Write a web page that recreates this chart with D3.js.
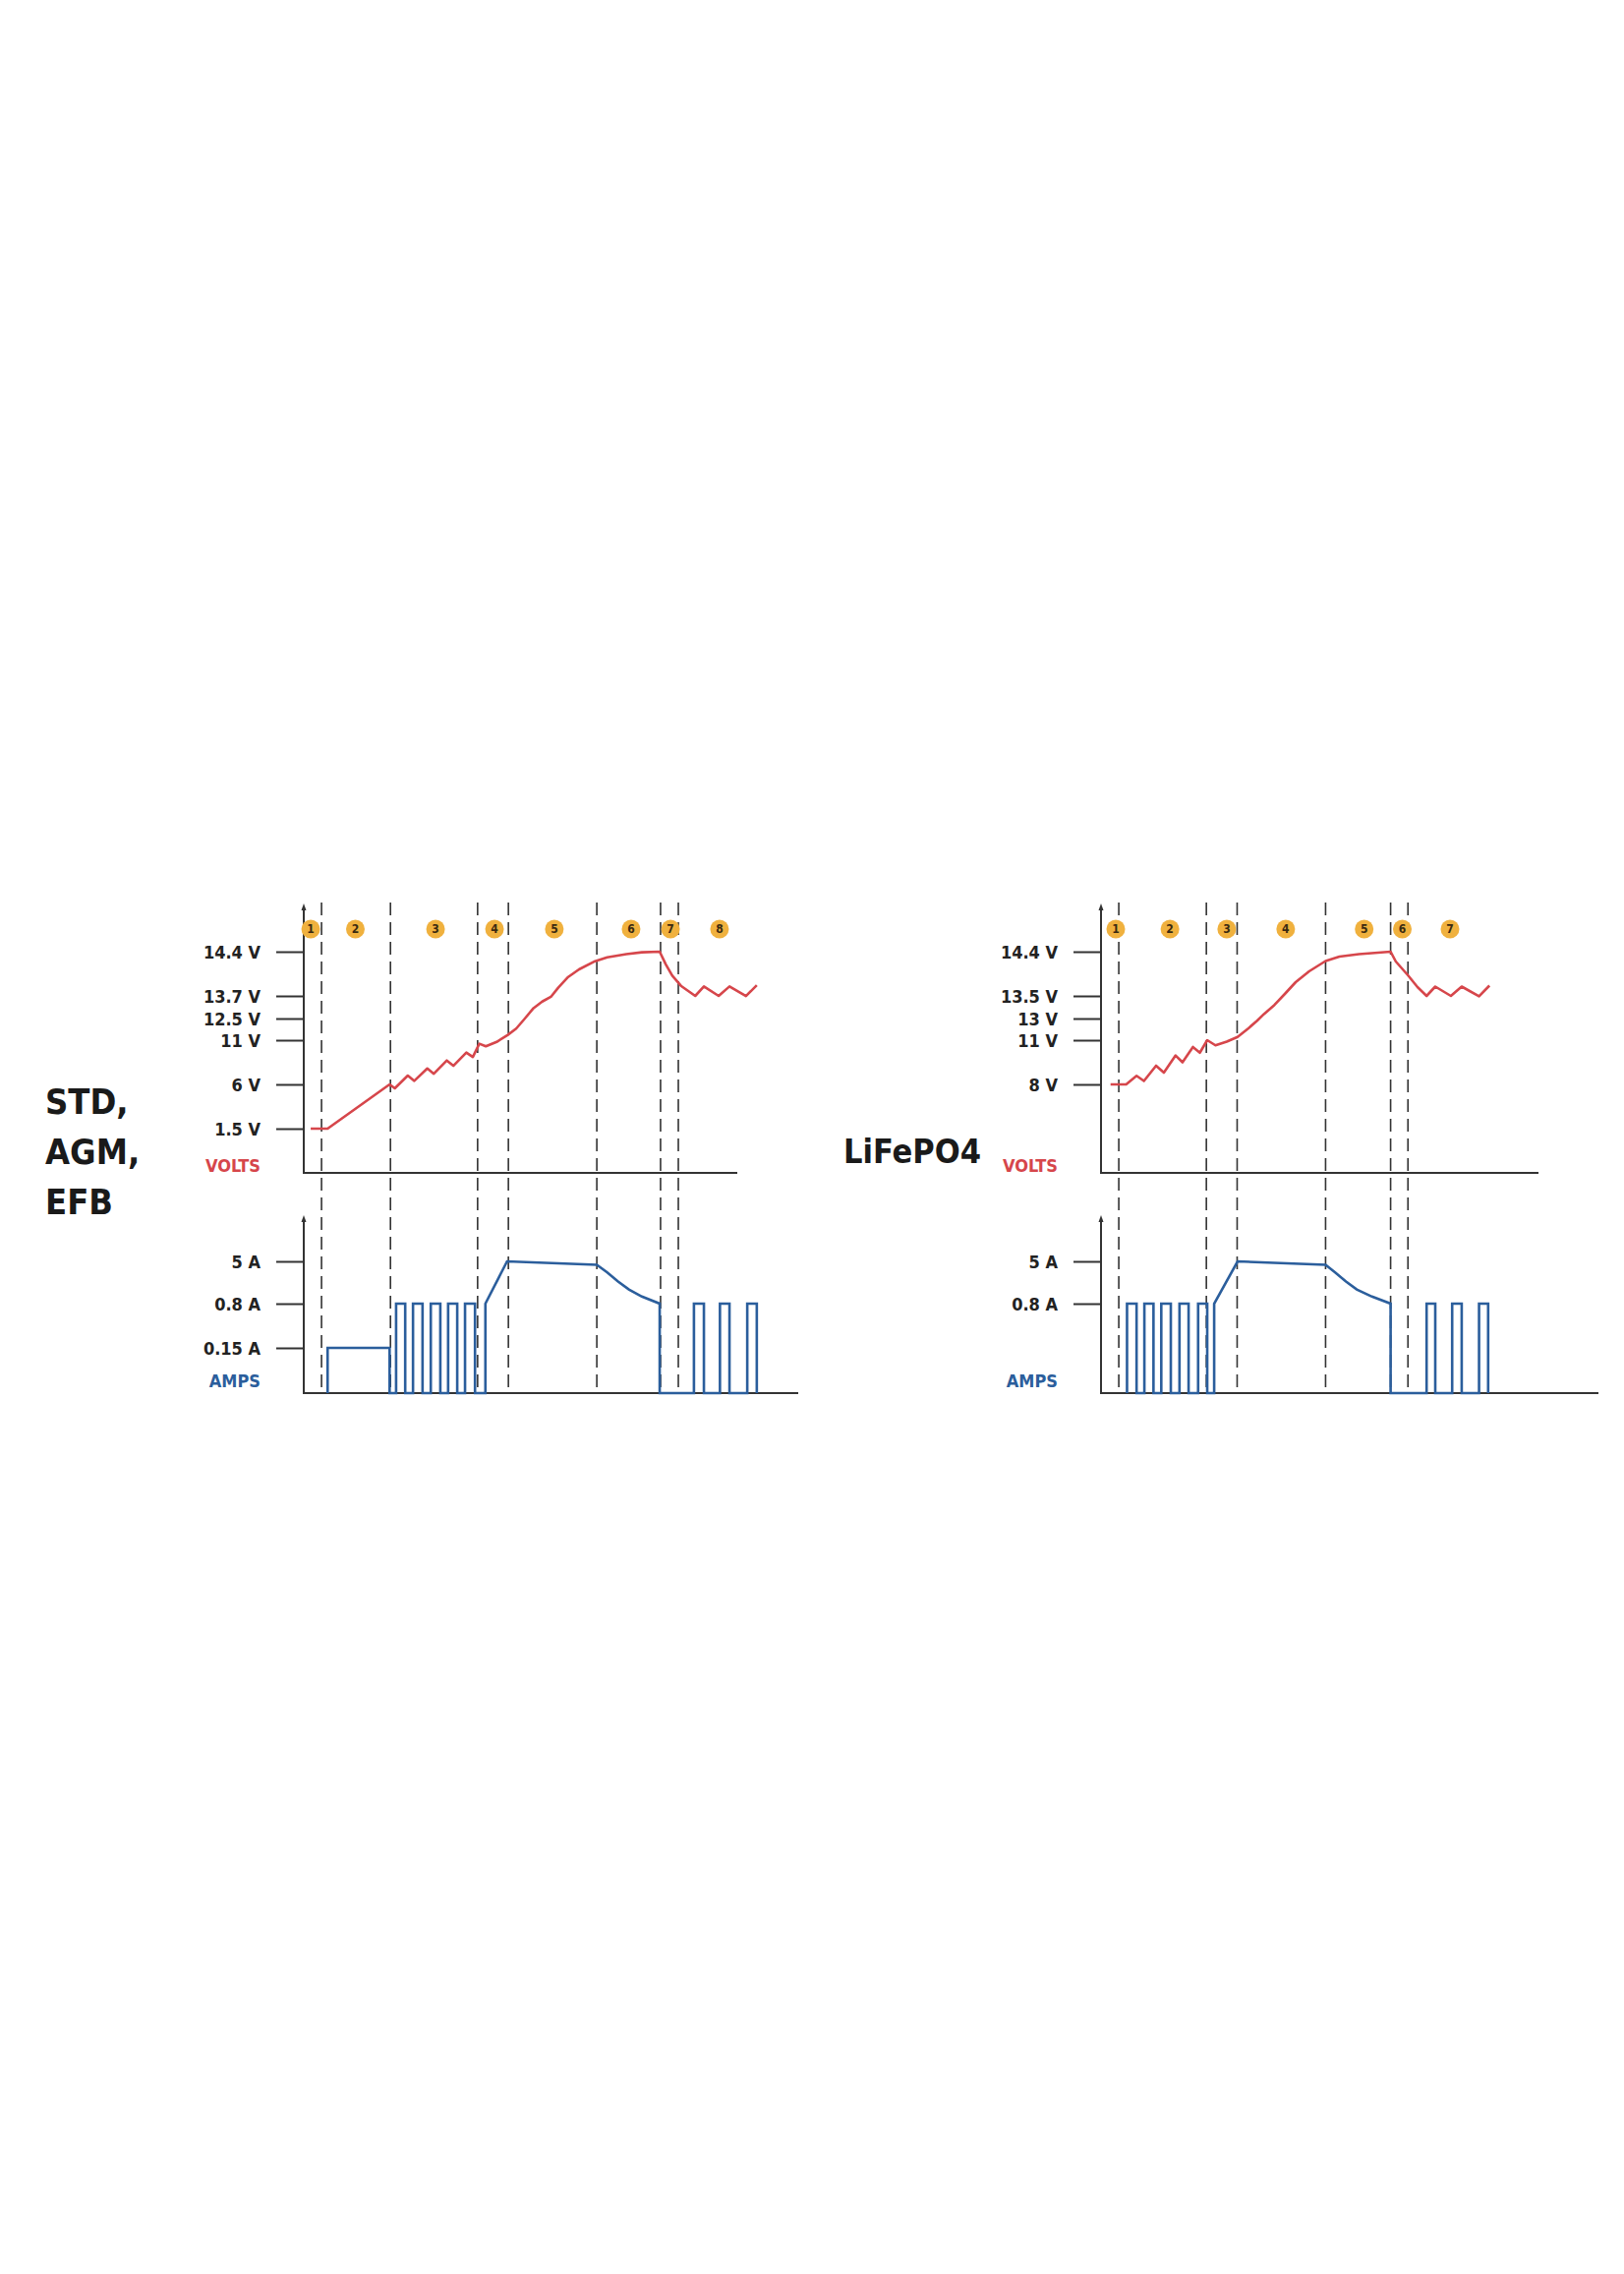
<!DOCTYPE html>
<html>
<head>
<meta charset="utf-8">
<style>
  body { margin: 0; background: #fff; }
  text { font-family: 'Liberation Sans Narrow', 'DejaVu Sans Condensed', 'Roboto Condensed', sans-serif; font-weight: bold; }
</style>
<script src="https://cdn.jsdelivr.net/npm/d3@7"></script>
</head>
<body>
<script>
// ---- data (time in arbitrary units 0..100 along the volts axis) ----
var leftVoltTicks = [1.5, 6, 11, 12.5, 13.7, 14.4];
var leftAmpTicks = [0.15, 0.8, 5];
var leftStages = [4.1, 20, 40.1, 47.2, 67.6, 82.3, 86.4];
var leftBadges = [[1.6, "1"], [11.9, "2"], [30.4, "3"], [44, "4"], [57.8, "5"], [75.5, "6"], [84.6, "7"], [95.9, "8"]];
var leftVolts = [[1.6, 1.5], [5.5, 1.5], [19.8, 6], [21, 5.6], [24, 7.0], [25.5, 6.4], [28.5, 7.8], [30, 7.2], [33, 8.7],
  [34.5, 8.1], [37.5, 9.6], [39, 9.1], [40.5, 10.6], [42, 10.3], [44.5, 10.8], [47, 11.35], [49, 11.8], [51, 12.5],
  [53, 13.05], [55, 13.4], [57, 13.65], [58.7, 13.83], [61, 14.0], [63.5, 14.12], [67.2, 14.25], [70, 14.31],
  [74.4, 14.36], [78, 14.39], [82.1, 14.4], [83.5, 14.2], [85, 14.02], [87, 13.86], [90.3, 13.7], [92.3, 13.85],
  [95.7, 13.7], [98.2, 13.85], [102, 13.69], [104.5, 13.87]];
var leftAmps = [[5.5, 0], [5.5, 0.15], [19.8, 0.15], [19.8, 0],
  [21.3, 0], [21.3, 0.8], [23.4, 0.8], [23.4, 0], [25.2, 0], [25.2, 0.8], [27.4, 0.8], [27.4, 0],
  [29.3, 0], [29.3, 0.8], [31.5, 0.8], [31.5, 0], [33.3, 0], [33.3, 0.8], [35.4, 0.8], [35.4, 0],
  [37.2, 0], [37.2, 0.8], [39.5, 0.8], [39.5, 0], [41.9, 0], [41.9, 0.8], [46.9, 5], [67.6, 4.66],
  [70, 3.9], [72.5, 3.0], [75, 2.2], [78, 1.5], [82.1, 0.8], [82.1, 0], [90, 0], [90, 0.8], [92.3, 0.8], [92.3, 0],
  [96, 0], [96, 0.8], [98.2, 0.8], [98.2, 0], [102.3, 0], [102.3, 0.8], [104.5, 0.8], [104.5, 0]];

var rightVoltTicks = [8, 11, 13, 13.5, 14.4];
var rightAmpTicks = [0.8, 5];
var rightStages = [4.1, 24.3, 31.4, 51.8, 66.8, 70.8];
var rightBadges = [[3.4, "1"], [15.9, "2"], [29, "3"], [42.6, "4"], [60.7, "5"], [69.5, "6"], [80.5, "7"]];
var rightVolts = [[2.2, 8], [5.8, 8], [8.2, 8.58], [9.9, 8.23], [12.7, 9.27], [14.5, 8.8], [17.2, 9.96], [18.8, 9.5],
  [21.2, 10.54], [22.8, 10.15], [24.5, 11], [26.4, 10.65], [29, 10.9], [31.5, 11.3], [34, 12.1], [36, 12.8],
  [37.6, 13.1], [40, 13.3], [42.5, 13.55], [44.9, 13.78], [48, 14.0], [51.8, 14.21], [55, 14.3], [59.5, 14.35],
  [66.8, 14.4], [68, 14.2], [69.5, 14.05], [70.8, 13.92], [73, 13.68], [75.1, 13.5], [77.1, 13.69], [80.7, 13.5],
  [83.2, 13.69], [87.2, 13.49], [89.6, 13.71]];
var rightAmps = [[6, 0], [6, 0.8], [8.2, 0.8], [8.2, 0], [10, 0], [10, 0.8], [12.1, 0.8], [12.1, 0],
  [13.9, 0], [13.9, 0.8], [16.1, 0.8], [16.1, 0], [18.1, 0], [18.1, 0.8], [20.2, 0.8], [20.2, 0],
  [22.4, 0], [22.4, 0.8], [24.5, 0.8], [24.5, 0], [26.1, 0], [26.1, 0.8], [31.5, 5], [51.8, 4.66],
  [54, 3.9], [56.5, 3.0], [59, 2.2], [62.5, 1.5], [66.8, 0.8], [66.8, 0], [75.1, 0], [75.1, 0.8], [77.1, 0.8], [77.1, 0],
  [81, 0], [81, 0.8], [83.2, 0.8], [83.2, 0], [87.2, 0], [87.2, 0.8], [89.3, 0.8], [89.3, 0]];

var red = "#d6464b", blue = "#2b5e9c", ink = "#333";

var svg = d3.select("body").append("svg").attr("width", 1652).attr("height", 2313);

function fmt(unit) { return function (d) { return d + " " + unit; }; }

function panel(o) {
  var g = svg.append("g");
  var x = d3.scaleLinear().domain([0, 100]).range([o.x0, o.x0 + 441]);
  var yV = d3.scaleLinear().domain(o.vDomain).range(o.vRange);
  var yA = d3.scaleLinear().domain(o.aDomain).range(o.aRange);

  // stage dashed lines
  g.selectAll(".stage").data(o.stages).enter().append("line")
    .attr("x1", d => x(d)).attr("x2", d => x(d))
    .attr("y1", 918).attr("y2", 1417)
    .attr("stroke", ink).attr("stroke-width", 1.6).attr("stroke-dasharray", "13,7");

  // axes lines
  g.append("path").attr("d", "M" + o.x0 + ",923V1193H" + (o.x0 + o.vEnd))
    .attr("fill", "none").attr("stroke", ink).attr("stroke-width", 2);
  g.append("path").attr("d", "M" + o.x0 + ",1240V1417H" + (o.x0 + o.aEnd))
    .attr("fill", "none").attr("stroke", ink).attr("stroke-width", 2);
  [919, 1236].forEach(function (yy) {
    g.append("path").attr("d", "M" + (o.x0 - 2.5) + "," + (yy + 7) + "L" + o.x0 + "," + yy + "L" + (o.x0 + 2.5) + "," + (yy + 7) + "Z").attr("fill", ink);
  });

  var tick = 28;
  var ay = g.append("g").attr("transform", "translate(" + o.x0 + ",0)")
    .call(d3.axisLeft(yV).tickValues(o.vTicks).tickFormat(fmt("V")).tickSize(tick).tickSizeOuter(0));
  var aa = g.append("g").attr("transform", "translate(" + o.x0 + ",0)")
    .call(d3.axisLeft(yA).tickValues(o.aTicks).tickFormat(fmt("A")).tickSize(tick).tickSizeOuter(0));
  [ay, aa].forEach(function (a) {
    a.select(".domain").remove();
    a.selectAll("line").attr("stroke", ink).attr("stroke-width", 2);
    a.selectAll("text").attr("fill", "#222").style("font-size", "18px").attr("dy", "0.35em").attr("x", -tick - 16);
  });

  g.append("text").attr("x", o.x0 - tick - 16).attr("y", 1192).attr("text-anchor", "end")
    .attr("fill", red).style("font-size", "18px").text("VOLTS");
  g.append("text").attr("x", o.x0 - tick - 16).attr("y", 1411).attr("text-anchor", "end")
    .attr("fill", blue).style("font-size", "18px").text("AMPS");

  // badges
  var b = g.selectAll(".badge").data(o.badges).enter().append("g")
    .attr("transform", d => "translate(" + x(d[0]) + ",945)");
  b.append("circle").attr("r", 9.5).attr("fill", "#f0b13e");
  b.append("text").attr("text-anchor", "middle").attr("dy", "0.36em")
    .style("font-size", "12px").attr("fill", "#3a2a10").text(d => d[1]);

  // series
  g.append("path").datum(o.volts)
    .attr("d", d3.line().x(d => x(d[0])).y(d => yV(d[1])))
    .attr("fill", "none").attr("stroke", red).attr("stroke-width", 2.6).attr("stroke-linejoin", "round");
  g.append("path").datum(o.amps)
    .attr("d", d3.line().x(d => x(d[0])).y(d => yA(d[1])))
    .attr("fill", "none").attr("stroke", blue).attr("stroke-width", 2.6);
}

panel({
  x0: 309, vEnd: 441, aEnd: 503,
  vDomain: [0, 1.5, 6, 11, 12.5, 13.7, 14.4], vRange: [1193, 1148, 1103, 1058, 1036, 1013, 968],
  aDomain: [0, 0.15, 0.8, 5], aRange: [1417, 1371, 1326, 1283],
  vTicks: leftVoltTicks, aTicks: leftAmpTicks, stages: leftStages, badges: leftBadges,
  volts: leftVolts, amps: leftAmps
});
panel({
  x0: 1120, vEnd: 445, aEnd: 506,
  vDomain: [0, 8, 11, 13, 13.5, 14.4], vRange: [1193, 1103, 1058, 1036, 1013, 968],
  aDomain: [0, 0.8, 5], aRange: [1417, 1326, 1283],
  vTicks: rightVoltTicks, aTicks: rightAmpTicks, stages: rightStages, badges: rightBadges,
  volts: rightVolts, amps: rightAmps
});

// battery type labels
var types = ["STD,", "AGM,", "EFB"];
svg.selectAll(".type").data(types).enter().append("text")
  .attr("x", 46).attr("y", (d, i) => 1133 + i * 51)
  .style("font-size", "36px").attr("fill", "#1a1a1a").text(d => d);
svg.append("text").attr("x", 858).attr("y", 1183)
  .style("font-size", "34px").attr("fill", "#1a1a1a").text("LiFePO4");
</script>
</body>
</html>
